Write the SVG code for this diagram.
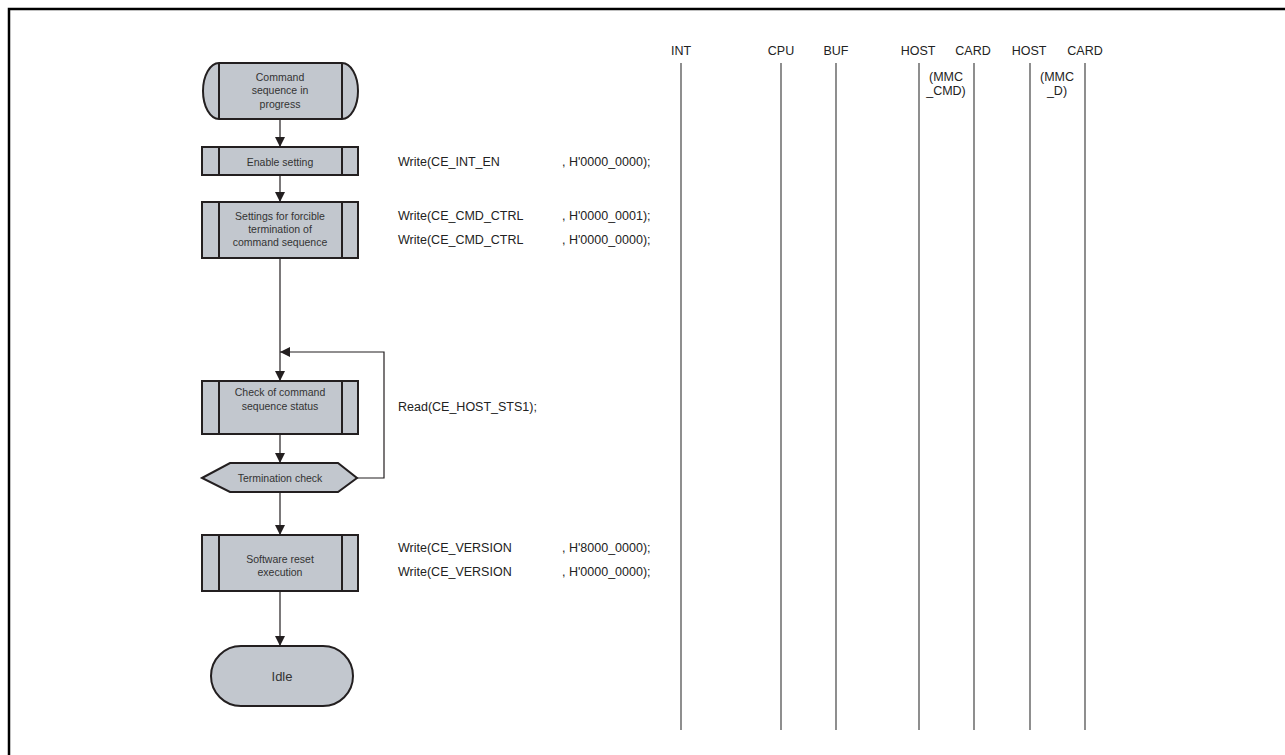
<svg xmlns="http://www.w3.org/2000/svg" width="1285" height="755" viewBox="0 0 1285 755">
<style>
.box{fill:#c2c7ce;stroke:#231f20;stroke-width:2}
.bar{stroke:#231f20;stroke-width:2;fill:none}
.t{font-family:"Liberation Sans",Arial,sans-serif;font-size:10.5px;fill:#333;text-anchor:middle;dominant-baseline:central}
.code{font-family:"Liberation Sans",Arial,sans-serif;font-size:12.5px;fill:#222;dominant-baseline:central}
.hdr{font-family:"Liberation Sans",Arial,sans-serif;font-size:12.5px;fill:#222;text-anchor:middle;dominant-baseline:central}
.life{stroke:#444;stroke-width:1.2}
.con{stroke:#231f20;stroke-width:1.2;fill:none}
</style>
<defs>
<marker id="arr" viewBox="0 0 10 10" refX="10" refY="5" markerWidth="10" markerHeight="10" markerUnits="userSpaceOnUse" orient="auto">
<path d="M0,0 L10,5 L0,10 z" fill="#231f20"/>
</marker>
</defs>
<rect width="1285" height="755" fill="#fff"/>
<path d="M9,755 V9 H1285" fill="none" stroke="#000" stroke-width="2.5"/>

<g id="start">
<path class="box" d="M219,63 H342 A16,28 0 0 1 342,119 H219 A16,28 0 0 1 219,63 z"/>
<line class="bar" x1="219" y1="63" x2="219" y2="119"/>
<line class="bar" x1="342" y1="63" x2="342" y2="119"/>
<text class="t" x="280" y="77">Command</text>
<text class="t" x="280" y="90">sequence in</text>
<text class="t" x="280" y="104">progress</text>
</g>

<g id="enable">
<rect class="box" x="202" y="147" width="156" height="28"/>
<line class="bar" x1="219" y1="147" x2="219" y2="175"/>
<line class="bar" x1="342" y1="147" x2="342" y2="175"/>
<text class="t" x="280" y="162">Enable setting</text>
</g>

<g id="settings">
<rect class="box" x="202" y="202" width="156" height="56"/>
<line class="bar" x1="219" y1="202" x2="219" y2="258"/>
<line class="bar" x1="342" y1="202" x2="342" y2="258"/>
<text class="t" x="280" y="216">Settings for forcible</text>
<text class="t" x="280" y="229">termination of</text>
<text class="t" x="280" y="242">command sequence</text>
</g>

<g id="check">
<rect class="box" x="202" y="381" width="156" height="53"/>
<line class="bar" x1="219" y1="381" x2="219" y2="434"/>
<line class="bar" x1="342" y1="381" x2="342" y2="434"/>
<text class="t" x="280" y="392">Check of command</text>
<text class="t" x="280" y="406">sequence status</text>
</g>

<g id="termination">
<path class="box" d="M202,478 L230,463 H338 L357,478 L338,492 H230 z"/>
<text class="t" x="280" y="478">Termination check</text>
</g>

<g id="reset">
<rect class="box" x="202" y="535" width="156" height="56"/>
<line class="bar" x1="219" y1="535" x2="219" y2="591"/>
<line class="bar" x1="342" y1="535" x2="342" y2="591"/>
<text class="t" x="280" y="559">Software reset</text>
<text class="t" x="280" y="572">execution</text>
</g>

<g id="idle">
<rect class="box" x="211" y="646" width="142" height="60" rx="30" ry="30"/>
<text class="t" x="282" y="676" style="font-size:13px">Idle</text>
</g>

<g id="connectors">
<line class="con" x1="280" y1="119" x2="280" y2="147" marker-end="url(#arr)"/>
<line class="con" x1="280" y1="175" x2="280" y2="202" marker-end="url(#arr)"/>
<line class="con" x1="280" y1="258" x2="280" y2="381" marker-end="url(#arr)"/>
<polyline class="con" points="357,478 384,478 384,352 280,352" marker-end="url(#arr)"/>
<line class="con" x1="280" y1="434" x2="280" y2="463" marker-end="url(#arr)"/>
<line class="con" x1="280" y1="492" x2="280" y2="535" marker-end="url(#arr)"/>
<line class="con" x1="280" y1="591" x2="280" y2="646" marker-end="url(#arr)"/>
</g>

<g id="code">
<text class="code" x="398" y="162">Write(CE_INT_EN</text>
<text class="code" x="562" y="162">, H'0000_0000);</text>
<text class="code" x="398" y="216">Write(CE_CMD_CTRL</text>
<text class="code" x="562" y="216">, H'0000_0001);</text>
<text class="code" x="398" y="240">Write(CE_CMD_CTRL</text>
<text class="code" x="562" y="240">, H'0000_0000);</text>
<text class="code" x="398" y="407">Read(CE_HOST_STS1);</text>
<text class="code" x="398" y="548">Write(CE_VERSION</text>
<text class="code" x="562" y="548">, H'8000_0000);</text>
<text class="code" x="398" y="572">Write(CE_VERSION</text>
<text class="code" x="562" y="572">, H'0000_0000);</text>
</g>

<g id="lifelines">
<text class="hdr" x="681" y="51">INT</text>
<text class="hdr" x="781" y="51">CPU</text>
<text class="hdr" x="836" y="51">BUF</text>
<text class="hdr" x="918" y="51">HOST</text>
<text class="hdr" x="973" y="51">CARD</text>
<text class="hdr" x="1029" y="51">HOST</text>
<text class="hdr" x="1085" y="51">CARD</text>
<text class="hdr" x="946" y="77">(MMC</text>
<text class="hdr" x="946" y="91">_CMD)</text>
<text class="hdr" x="1057" y="77">(MMC</text>
<text class="hdr" x="1057" y="91">_D)</text>
<line class="life" x1="681" y1="63" x2="681" y2="730"/>
<line class="life" x1="781" y1="63" x2="781" y2="730"/>
<line class="life" x1="836" y1="63" x2="836" y2="730"/>
<line class="life" x1="919" y1="63" x2="919" y2="730"/>
<line class="life" x1="974" y1="63" x2="974" y2="730"/>
<line class="life" x1="1030" y1="63" x2="1030" y2="730"/>
<line class="life" x1="1085" y1="63" x2="1085" y2="730"/>
</g>
</svg>
